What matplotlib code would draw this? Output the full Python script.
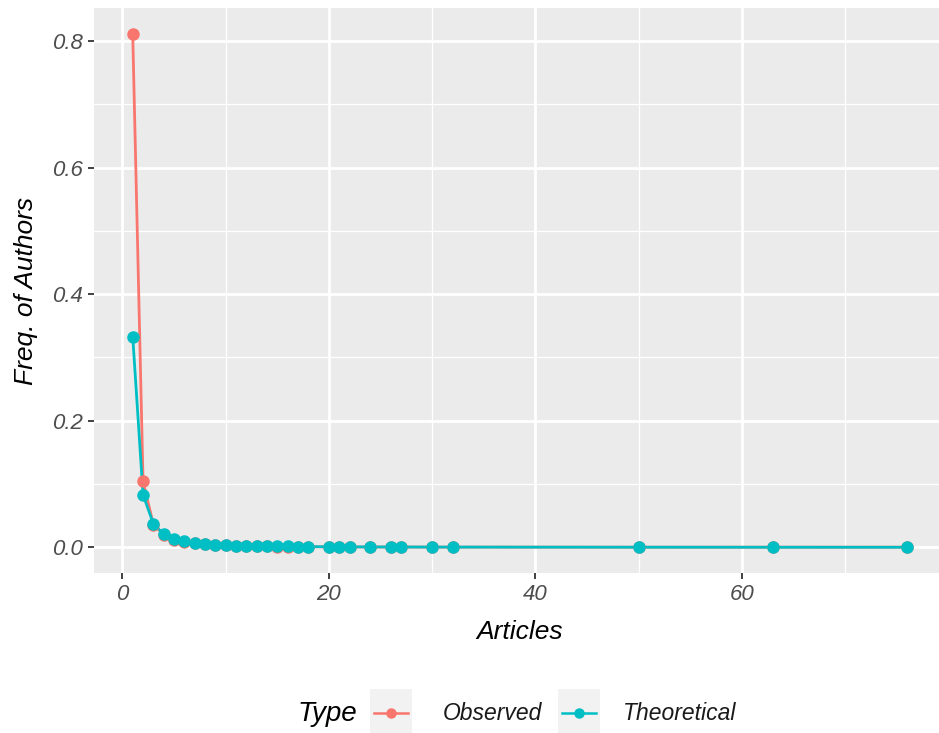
import numpy as np
import matplotlib.pyplot as plt
from matplotlib.patches import Rectangle
from matplotlib.lines import Line2D

plt.rcParams['font.family'] = ['Liberation Sans', 'DejaVu Sans']

# data
articles = [1, 2, 3, 4, 5, 6, 7, 8, 9, 10, 11, 12, 13, 14, 15, 16, 17, 18,
            20, 21, 22, 24, 26, 27, 30, 32, 50, 63, 76]
observed = [0.811, 0.104, 0.036, 0.020, 0.012, 0.009, 0.0065, 0.005, 0.004,
            0.003, 0.0025, 0.002, 0.0018, 0.0015, 0.0012, 0.001, 0.001, 0.0008,
            0.0006, 0.0006, 0.0005, 0.0005, 0.0004, 0.0004, 0.0003, 0.0003,
            0.0002, 0.0002, 0.0002]
theoretical = [0.333, 0.083, 0.037, 0.021, 0.013, 0.0093, 0.0068, 0.0052, 0.0041,
               0.0033, 0.0028, 0.0023, 0.002, 0.0017, 0.0015, 0.0013, 0.0012, 0.001,
               0.0008, 0.00076, 0.00069, 0.00058, 0.00049, 0.00046, 0.00037,
               0.00033, 0.00013, 0.00008, 0.00006]
series = {'Observed': observed, 'Theoretical': theoretical}
colors = {'Observed': '#F8766D', 'Theoretical': '#00BFC4'}

W, H = 939, 733
fig = plt.figure(figsize=(W / 100, H / 100), dpi=100)
# panel: left 94px, right beyond the cropped edge, top 8px, bottom 573px
ax = fig.add_axes([94 / W, (H - 573) / H, (946 - 94) / W, (573 - 8) / H])
ax.set_facecolor('#EBEBEB')

# lines first, then points (ggplot layer order)
for name, vals in series.items():
    ax.plot(articles, vals, color=colors[name], lw=2, zorder=3)
for name, vals in series.items():
    ax.plot(articles, vals, ls='none', marker='o', ms=8, color=colors[name], zorder=4)

ax.set_xlim(-2.75, 79.75)
ax.set_ylim(-0.0406, 0.852)
ax.set_xticks([0, 20, 40, 60])
ax.set_xticks([10, 30, 50, 70], minor=True)
ax.set_yticks([0.0, 0.2, 0.4, 0.6, 0.8])
ax.set_yticks([0.1, 0.3, 0.5, 0.7], minor=True)
ax.set_yticklabels(['0.0', '0.2', '0.4', '0.6', '0.8'])
ax.grid(which='major', color='white', lw=2, zorder=0)
ax.grid(which='minor', color='white', lw=0.9, zorder=0)
ax.set_axisbelow(True)
for s in ax.spines.values():
    s.set_visible(False)
ax.tick_params(which='major', length=4, width=1.3, color='#333333',
               labelsize=16, labelcolor='#4D4D4D', pad=4)
ax.tick_params(which='minor', length=0)
for lab in ax.get_xticklabels() + ax.get_yticklabels():
    lab.set_fontstyle('italic')

ax.set_xlabel('Articles', fontsize=19, style='italic', labelpad=11)
ax.set_ylabel('Freq. of Authors', fontsize=19, style='italic', labelpad=10)

# legend at bottom, ggplot style (title to the left of keys)
fig.text(298 / W, 1 - 714 / H, 'Type', fontsize=20, style='italic', va='center', ha='left')
keys = [('Observed', 370, 443), ('Theoretical', 558, 623)]
for name, kx, tx in keys:
    fig.patches.append(Rectangle((kx / W, 1 - 733 / H), 42 / W, 44 / H,
                                 transform=fig.transFigure, facecolor='#F2F2F2',
                                 edgecolor='none'))
    fig.lines.append(Line2D([(kx + 4) / W, (kx + 38) / W], [1 - 713 / H, 1 - 713 / H],
                            transform=fig.transFigure, color=colors[name], lw=1.8))
    fig.lines.append(Line2D([(kx + 21) / W], [1 - 713 / H], transform=fig.transFigure,
                            marker='o', ms=6.5, color=colors[name]))
    fig.text(tx / W, 1 - 714 / H, name, fontsize=16.5, style='italic', va='center',
             ha='left', color='#1A1A1A')

fig.savefig('out.png', dpi=100)
